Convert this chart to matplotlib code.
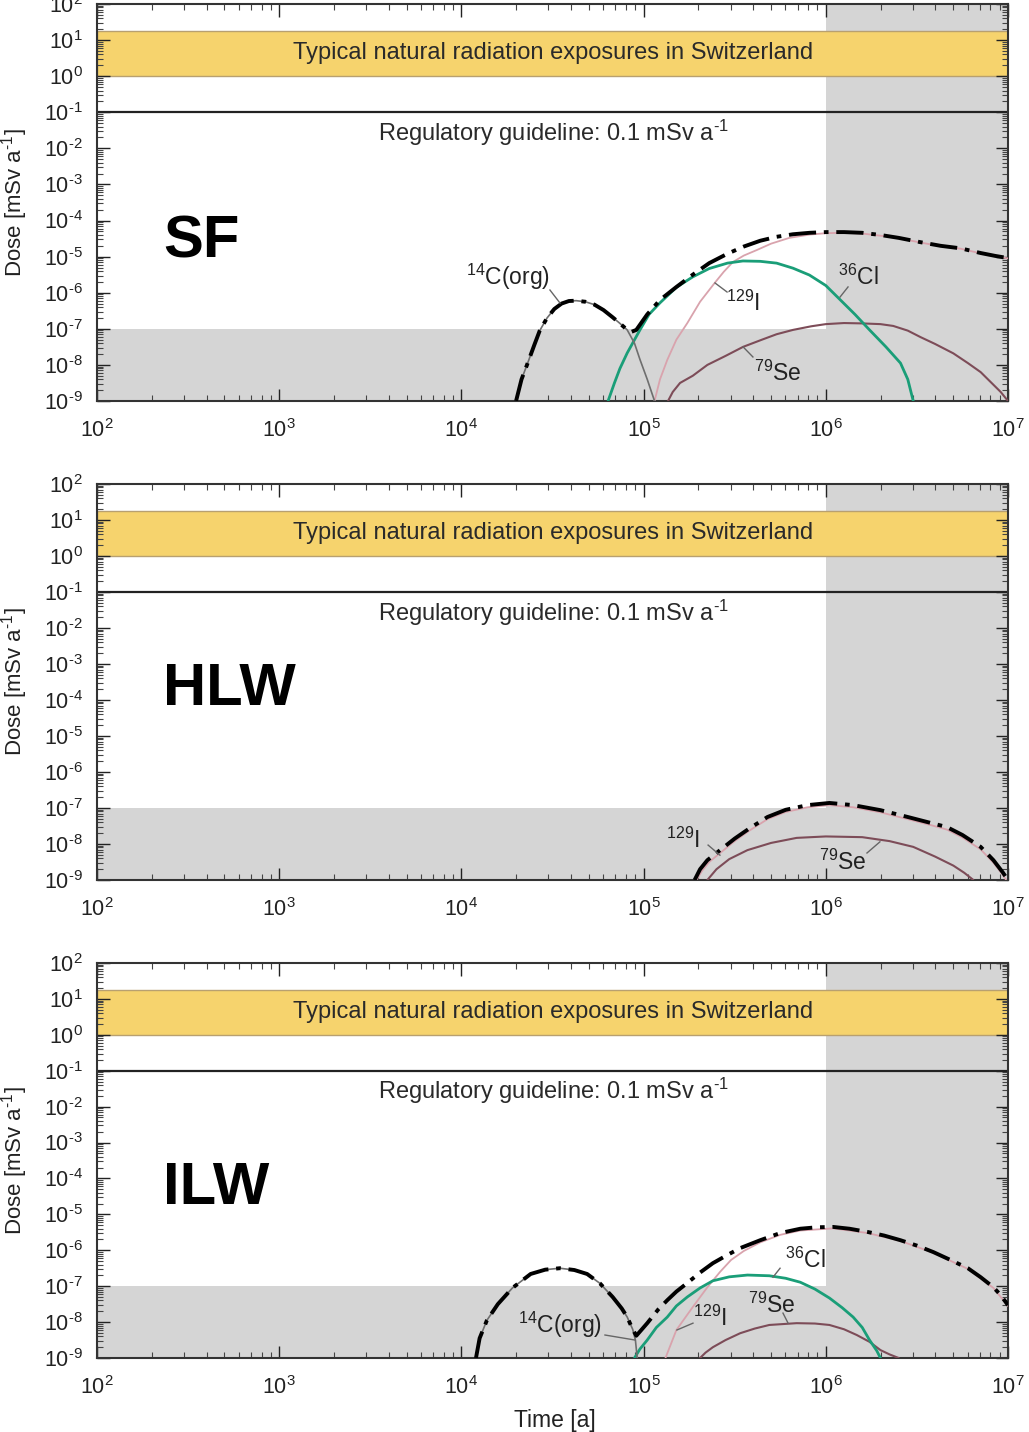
import numpy as np
import matplotlib
matplotlib.use("Agg")
import matplotlib.pyplot as plt
from matplotlib.ticker import LogLocator, FuncFormatter, NullFormatter

plt.rcParams['font.family'] = ['Liberation Sans', 'DejaVu Sans']
plt.rcParams['mathtext.fontset'] = 'custom'
plt.rcParams['mathtext.rm'] = 'Liberation Sans'
plt.rcParams['mathtext.it'] = 'Liberation Sans:italic'
plt.rcParams['mathtext.bf'] = 'Liberation Sans:bold'
plt.rcParams['mathtext.default'] = 'regular'
plt.rcParams['axes.unicode_minus'] = False

# --- data (log10 of time [a], log10 of dose [mSv/a]) ---
panels = ['SF', 'HLW', 'ILW']

sf_total_t = [4.30, 4.33, 4.36, 4.40, 4.43, 4.47, 4.51, 4.55, 4.59, 4.63, 4.68, 4.73, 4.78, 4.83, 4.87, 4.91,
              4.935, 4.96, 5.02, 5.09, 5.18, 5.27, 5.36, 5.46, 5.55, 5.64, 5.73, 5.82, 5.91, 6.0, 6.1, 6.2,
              6.3, 6.4, 6.52, 6.63, 6.74, 6.85, 6.93, 7.0]
sf_total_d = [-9.0, -8.4, -8.0, -7.45, -7.05, -6.7, -6.45, -6.3, -6.23, -6.22, -6.25, -6.33, -6.48, -6.68, -6.85, -7.03,
              -7.08, -7.03, -6.6, -6.2, -5.84, -5.5, -5.18, -4.92, -4.72, -4.56, -4.45, -4.38, -4.34, -4.32, -4.32, -4.34,
              -4.40, -4.48, -4.6, -4.7, -4.77, -4.9, -4.98, -5.04]
sf_c14_t = [4.30, 4.33, 4.36, 4.40, 4.43, 4.47, 4.51, 4.55, 4.59, 4.63, 4.68, 4.73, 4.78, 4.83, 4.87, 4.91,
            4.95, 4.98, 5.02, 5.06]
sf_c14_d = [-9.0, -8.4, -8.0, -7.45, -7.05, -6.7, -6.45, -6.3, -6.23, -6.22, -6.25, -6.33, -6.48, -6.68, -6.85, -7.03,
            -7.4, -7.85, -8.4, -9.0]
sf_cl36_t = [4.805, 4.84, 4.87, 4.91, 4.98, 5.03, 5.09, 5.18, 5.27, 5.36, 5.46, 5.545, 5.64, 5.73, 5.82, 5.91,
             6.0, 6.08, 6.16, 6.24, 6.33, 6.41, 6.45, 6.48]
sf_cl36_d = [-9.0, -8.5, -8.1, -7.67, -7.03, -6.6, -6.28, -5.85, -5.56, -5.33, -5.18, -5.12, -5.13, -5.18, -5.32, -5.51,
             -5.8, -6.2, -6.6, -7.03, -7.5, -7.95, -8.4, -9.0]
sf_i129_t = [5.06, 5.09, 5.13, 5.18, 5.24, 5.31, 5.39, 5.44, 5.49, 5.55, 5.62, 5.7, 5.8, 5.91, 6.0, 6.1, 6.2,
             6.3, 6.4, 6.52, 6.63, 6.74, 6.85, 6.93, 7.0]
sf_i129_d = [-9.0, -8.4, -7.86, -7.3, -6.84, -6.25, -5.73, -5.42, -5.15, -4.97, -4.82, -4.64, -4.48, -4.39, -4.35, -4.34, -4.36,
             -4.42, -4.49, -4.61, -4.71, -4.78, -4.91, -4.99, -5.05]
sf_se79_t = [5.134, 5.16, 5.2, 5.27, 5.35, 5.45, 5.546, 5.65, 5.73, 5.82, 5.92, 6.0, 6.1, 6.2, 6.3, 6.37,
             6.45, 6.52, 6.6, 6.7, 6.78, 6.85, 6.91, 6.96, 7.0]
sf_se79_d = [-9.0, -8.75, -8.5, -8.3, -8.0, -7.75, -7.5, -7.3, -7.15, -7.03, -6.93, -6.87, -6.84, -6.85, -6.87, -6.92,
             -7.05, -7.23, -7.42, -7.68, -7.95, -8.2, -8.5, -8.75, -9.0]

hlw_total_t = [5.28, 5.31, 5.35, 5.42, 5.5, 5.58, 5.68, 5.78, 5.9, 6.02, 6.15, 6.3, 6.45, 6.58, 6.665, 6.75,
               6.85, 6.92, 6.97, 7.0]
hlw_total_d = [-9.0, -8.7, -8.45, -8.17, -7.85, -7.57, -7.25, -7.05, -6.92, -6.86, -6.92, -7.06, -7.25, -7.42, -7.53, -7.75,
               -8.08, -8.45, -8.78, -9.0]
hlw_i129_t = [5.29, 5.32, 5.36, 5.42, 5.5, 5.58, 5.68, 5.78, 5.9, 6.02, 6.15, 6.3, 6.45, 6.58, 6.665, 6.75,
              6.85, 6.92, 6.97, 6.99]
hlw_i129_d = [-9.0, -8.75, -8.5, -8.25, -7.92, -7.63, -7.31, -7.11, -6.98, -6.92, -6.98, -7.12, -7.31, -7.48, -7.6, -7.82,
              -8.15, -8.52, -8.85, -9.0]
hlw_se79_t = [5.35, 5.40, 5.47, 5.57, 5.7, 5.84, 6.0, 6.2, 6.35, 6.48, 6.6, 6.7, 6.76, 6.81]
hlw_se79_d = [-9.0, -8.7, -8.42, -8.17, -7.97, -7.83, -7.79, -7.81, -7.92, -8.08, -8.35, -8.6, -8.8, -9.0]

ilw_total_t = [4.08, 4.10, 4.14, 4.20, 4.28, 4.38, 4.46, 4.54, 4.62, 4.69, 4.76, 4.83, 4.88, 4.91, 4.94,
               4.96, 5.02, 5.08, 5.13, 5.18, 5.24, 5.31, 5.38, 5.46, 5.53, 5.64, 5.75, 5.86, 5.95, 6.04, 6.13,
               6.23, 6.32, 6.41, 6.5, 6.59, 6.68, 6.78, 6.85, 6.92, 6.96, 7.0]
ilw_total_d = [-9.0, -8.45, -7.95, -7.5, -7.05, -6.66, -6.54, -6.5, -6.55, -6.66, -6.92, -7.3, -7.62, -7.86, -8.2,
               -8.38, -8.03, -7.65, -7.39, -7.15, -6.91, -6.62, -6.36, -6.13, -5.94, -5.72, -5.52, -5.4, -5.36, -5.35, -5.4,
               -5.49, -5.59, -5.72, -5.87, -6.05, -6.26, -6.5, -6.75, -7.03, -7.25, -7.53]
ilw_c14_t = [4.08, 4.10, 4.14, 4.20, 4.28, 4.38, 4.46, 4.54, 4.62, 4.69, 4.76, 4.83, 4.88, 4.91, 4.94, 4.955, 4.965]
ilw_c14_d = [-9.0, -8.45, -7.95, -7.5, -7.05, -6.66, -6.54, -6.5, -6.55, -6.66, -6.92, -7.3, -7.62, -7.86, -8.2, -8.5, -9.0]
ilw_cl36_t = [4.95, 4.98, 5.02, 5.07, 5.13, 5.18, 5.24, 5.31, 5.38, 5.47, 5.57, 5.69, 5.78, 5.86, 5.94, 6.02,
              6.09, 6.15, 6.2, 6.24, 6.28, 6.30]
ilw_cl36_d = [-9.0, -8.75, -8.5, -8.15, -7.86, -7.55, -7.3, -7.05, -6.85, -6.74, -6.69, -6.71, -6.78, -6.89, -7.08, -7.33,
              -7.6, -7.86, -8.15, -8.5, -8.8, -9.0]
ilw_i129_t = [5.12, 5.18, 5.27, 5.35, 5.42, 5.48, 5.55, 5.64, 5.75, 5.86, 6.04, 6.23, 6.41, 6.59, 6.78, 6.92, 7.0]
ilw_i129_d = [-9.0, -8.22, -7.58, -7.03, -6.6, -6.27, -6.02, -5.78, -5.57, -5.45, -5.39, -5.52, -5.74, -6.07, -6.52, -7.05, -7.55]
ilw_se79_t = [5.31, 5.34, 5.38, 5.45, 5.53, 5.61, 5.69, 5.84, 5.94, 6.02, 6.1, 6.17, 6.24, 6.3, 6.35, 6.40]
ilw_se79_d = [-9.0, -8.85, -8.7, -8.5, -8.31, -8.18, -8.08, -8.03, -8.04, -8.08, -8.2, -8.36, -8.55, -8.78, -8.9, -9.0]

natural_range = (1.0, 18.0)
guideline = 0.1

curves = {
    'SF': [('se79', sf_se79_t, sf_se79_d), ('i129', sf_i129_t, sf_i129_d), ('cl36', sf_cl36_t, sf_cl36_d),
           ('c14', sf_c14_t, sf_c14_d), ('total', sf_total_t, sf_total_d)],
    'HLW': [('se79', hlw_se79_t, hlw_se79_d), ('i129', hlw_i129_t, hlw_i129_d), ('total', hlw_total_t, hlw_total_d)],
    'ILW': [('se79', ilw_se79_t, ilw_se79_d), ('i129', ilw_i129_t, ilw_i129_d), ('cl36', ilw_cl36_t, ilw_cl36_d),
            ('c14', ilw_c14_t, ilw_c14_d), ('total', ilw_total_t, ilw_total_d)],
}

# nuclide labels: (text, text position, leader start, leader end), all log10
labels = {
    'SF': [(r'$^{14}$C(org)', (4.256, -5.565), (4.486, -5.925), (4.541, -6.285)),
           (r'$^{129}$I', (5.545, -6.285), (5.392, -5.73), (5.458, -5.98)),
           (r'$^{36}$Cl', (6.177, -5.565), (6.122, -5.84), (6.078, -6.12)),
           (r'$^{79}$Se', (5.738, -8.22), (5.546, -7.50), (5.60, -7.78))],
    'HLW': [(r'$^{129}$I', (5.216, -7.89), (5.419, -8.31), (5.354, -8.03)),
            (r'$^{79}$Se', (6.094, -8.5), (6.226, -8.25), (6.297, -7.94))],
    'ILW': [(r'$^{14}$C(org)', (4.541, -8.08), (4.788, -8.36), (4.953, -8.50)),
            (r'$^{129}$I', (5.364, -7.89), (5.271, -8.03), (5.183, -8.22)),
            (r'$^{36}$Cl', (5.886, -6.27), (5.749, -6.50), (5.71, -6.75)),
            (r'$^{79}$Se', (5.705, -7.53), (5.765, -7.75), (5.793, -8.03))],
}
panel_label_y = {'SF': -4.6, 'HLW': -3.72, 'ILW': -4.28}

styles = {
    'total': dict(color='black', lw=2.8, ls=(0, (7, 2, 1.2, 2)), zorder=6),
    'c14': dict(color='#6e6e6e', lw=1.2, ls='-', zorder=5),
    'cl36': dict(color='#1a9e78', lw=2.0, ls='-', zorder=4),
    'i129': dict(color='#d9a3ad', lw=1.3, ls='-', zorder=3),
    'se79': dict(color='#7d4c58', lw=1.5, ls='-', zorder=3),
}


def decade_label(v, pos):
    e = int(round(np.log10(v)))
    if e < 0:
        return r'$10^{\text{-}%d}$' % (-e)
    return r'$10^{%d}$' % e


W, H = 1029, 1432
fig = plt.figure(figsize=(W / 100, H / 100), dpi=100)
ax_boxes = [(97, 4, 1008, 401), (97, 484, 1008, 880), (97, 963, 1008, 1358)]

for name, (l, t, r, b) in zip(panels, ax_boxes):
    ax = fig.add_axes([l / W, 1 - b / H, (r - l) / W, (b - t) / H])
    ax.set_xscale('log')
    ax.set_yscale('log')
    ax.set_xlim(1e2, 1e7)
    ax.set_ylim(1e-9, 1e2)

    # shaded regions
    ax.fill_between([1e2, 1e6], 1e-9, 1e-7, color='#d5d5d5', lw=0, zorder=0)
    ax.fill_between([1e6, 1e7], 1e-9, 1e2, color='#d5d5d5', lw=0, zorder=0)
    ax.axhspan(*natural_range, facecolor='#f6d36d', edgecolor='#b8a070', lw=1.0, zorder=1)
    ax.axhline(guideline, color='#222222', lw=1.6, zorder=2)
    ax.text(10 ** 4.503, 10 ** 0.63, 'Typical natural radiation exposures in Switzerland',
            ha='center', va='center', fontsize=17, color='#2a2a2a', zorder=7)
    ax.text(10 ** 4.503, 10 ** -1.574, r'Regulatory guideline: 0.1 mSv a$^{\text{-}1}$',
            ha='center', va='center', fontsize=17, color='#2a2a2a', zorder=7)

    for key, tt, dd in curves[name]:
        ax.plot(10 ** np.array(tt), 10 ** np.array(dd), solid_capstyle='round', **styles[key])

    for txt, pos, p0, p1 in labels[name]:
        ax.text(10 ** pos[0], 10 ** pos[1], txt, ha='center', va='center', fontsize=16.5, color='#222222', zorder=8)
        ax.plot([10 ** p0[0], 10 ** p1[0]], [10 ** p0[1], 10 ** p1[1]], color='#666666', lw=1.0, zorder=8)

    ax.text(10 ** 2.362, 10 ** panel_label_y[name], name, ha='left', va='center',
            fontsize=43, fontweight='bold', color='black', zorder=8)

    ax.xaxis.set_major_locator(LogLocator(base=10, numticks=20))
    ax.xaxis.set_minor_locator(LogLocator(base=10, subs=np.arange(2, 10), numticks=20))
    ax.yaxis.set_major_locator(LogLocator(base=10, numticks=20))
    ax.yaxis.set_minor_locator(LogLocator(base=10, subs=np.arange(2, 10), numticks=20))
    ax.xaxis.set_major_formatter(FuncFormatter(decade_label))
    ax.yaxis.set_major_formatter(FuncFormatter(decade_label))
    ax.xaxis.set_minor_formatter(NullFormatter())
    ax.yaxis.set_minor_formatter(NullFormatter())
    ax.tick_params(which='both', direction='in', top=True, right=True, color='#444444')
    ax.tick_params(which='major', length=9, width=1.0)
    ax.tick_params(which='minor', length=4.5, width=0.8)
    ax.tick_params(axis='x', labelsize=15.5, pad=13, colors='#222222')
    ax.tick_params(axis='y', labelsize=15.5, pad=10, colors='#222222')
    for s in ax.spines.values():
        s.set_linewidth(1.5)
        s.set_color('#333333')
    ax.set_ylabel(r'Dose [mSv a$^{\text{-}1}$]', fontsize=16, color='#222222')
    ax.yaxis.set_label_coords(-0.074, 0.5)

fig.text(555 / W, 1 - 1421 / H, 'Time [a]', ha='center', va='center', fontsize=16.5, color='#222222')

fig.savefig('out.png', dpi=100)
